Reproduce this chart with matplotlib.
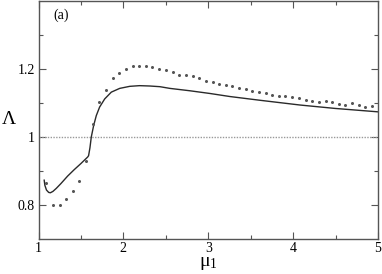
import matplotlib
matplotlib.use("Agg")
from matplotlib import pyplot as plt
from matplotlib.ticker import FixedLocator

plt.rcParams['font.family'] = ['Liberation Serif', 'DejaVu Serif']
plt.rcParams['mathtext.fontset'] = 'custom'
plt.rcParams['mathtext.rm'] = 'Liberation Serif'
plt.rcParams['mathtext.it'] = 'Liberation Serif:italic'

# points (simulation)
mu_pts = [1.091, 1.169, 1.248, 1.327, 1.406, 1.480, 1.559, 1.638, 1.717, 1.795,
          1.874, 1.953, 2.031, 2.110, 2.189, 2.264, 2.343, 2.421, 2.500, 2.579,
          2.657, 2.736, 2.815, 2.894, 2.972, 3.051, 3.126, 3.205, 3.283, 3.362,
          3.441, 3.520, 3.598, 3.677, 3.756, 3.831, 3.909, 3.988, 4.067, 4.146,
          4.224, 4.303, 4.382, 4.461, 4.539, 4.614, 4.693, 4.772, 4.850, 4.929]
lam_pts = [0.865, 0.800, 0.800, 0.818, 0.842, 0.870, 0.930, 1.037, 1.102, 1.137,
           1.173, 1.187, 1.200, 1.208, 1.210, 1.209, 1.206, 1.201, 1.196, 1.191,
           1.183, 1.182, 1.178, 1.174, 1.164, 1.162, 1.157, 1.152, 1.149, 1.143,
           1.140, 1.136, 1.131, 1.129, 1.124, 1.121, 1.120, 1.117, 1.116, 1.108,
           1.105, 1.104, 1.106, 1.102, 1.096, 1.094, 1.099, 1.095, 1.087, 1.092]

# curve (theory)
mu_line = [1.067, 1.075, 1.094, 1.12, 1.14, 1.17, 1.21, 1.264, 1.343, 1.421,
           1.50, 1.579, 1.59, 1.606, 1.622, 1.65, 1.681, 1.72, 1.78, 1.858,
           1.957, 2.075, 2.19, 2.31, 2.43, 2.547, 2.783, 3.02, 3.256, 3.61,
           3.846, 4.083, 4.496, 5.0]
lam_line = [0.873, 0.858, 0.844, 0.837, 0.836, 0.840, 0.849, 0.863, 0.885, 0.904,
            0.922, 0.941, 0.945, 0.968, 1.000, 1.034, 1.063, 1.088, 1.112, 1.132,
            1.143, 1.149, 1.151, 1.150, 1.148, 1.143, 1.136, 1.128, 1.119, 1.108,
            1.101, 1.094, 1.084, 1.074]

fig = plt.figure(figsize=(3.82, 2.74), dpi=100)
ax = fig.add_axes([38.5/382, 35/274, 339.5/382, 238/274])

ax.axhline(1.0, color='#999999', lw=1.0, ls=(0, (1, 1)))
ax.plot(mu_line, lam_line, color='#2a2a2a', lw=1.0)
ax.plot(mu_pts, lam_pts, 'o', color='#555555', ms=2.2, mec='none')

ax.set_xlim(1, 5)
ax.set_ylim(0.7, 1.4)
ax.set_xticks([1, 2, 3, 4, 5])
ax.set_xticklabels(['1', '2', '3', '4', '5'])
ax.xaxis.set_minor_locator(FixedLocator([1.5, 2.5, 3.5, 4.5]))
ax.set_yticks([0.8, 1.0, 1.2])
ax.set_yticklabels(['0.8', '1', '1.2'])
ax.yaxis.set_minor_locator(FixedLocator([0.9, 1.1, 1.3]))
ax.tick_params(which='both', direction='in', top=True, right=True,
               labelsize=10, pad=2.5, color='#555555')
ax.tick_params(which='major', length=5, width=0.8)
ax.tick_params(which='minor', length=3, width=0.8)
for s in ax.spines.values():
    s.set_color('#555555')
    s.set_linewidth(1.0)

ax.set_xlabel(r'μ$_{\mathregular{1}}$', fontsize=14, labelpad=0)
ax.set_ylabel('Λ', fontsize=14, rotation=0, ha='center', va='center')
ax.yaxis.set_label_coords(-0.088, 0.5)
ax.text(0.045, 0.94, '(a)', transform=ax.transAxes, fontsize=10, va='center')

fig.savefig('out.png', dpi=100)
